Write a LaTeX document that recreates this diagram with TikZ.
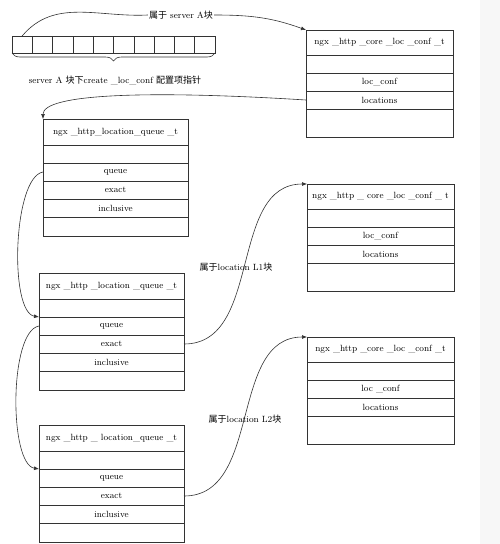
\documentclass[tikz,border=0pt]{standalone}
\usepackage{fontspec}
\newfontfamily\cjk{Noto Sans CJK SC}
\usetikzlibrary{positioning, decorations.pathreplacing, arrows.meta}

\tikzset{
  row/.style={draw=black!80, line width=0.6pt, minimum height=18pt, inner sep=0pt, outer sep=0pt, font=\small},
  head/.style={row, minimum height=25pt},
  core/.style={minimum width=147pt},
  queue/.style={minimum width=145pt},
  cell/.style={draw=black!80, line width=0.6pt, minimum width=20.3pt, minimum height=17pt, inner sep=0pt, outer sep=0pt},
  link/.style={draw=black!80, line width=0.6pt, -{Latex[length=5pt, width=4pt]}},
  plain/.style={draw=black!80, line width=0.6pt},
  lbl/.style={font=\small, inner sep=1pt}
}

\begin{document}
\begin{tikzpicture}[x=1pt, y=1pt]
    % page
    \useasboundingbox (0,0) rectangle (500,-544);
    \fill[white] (0,0) rectangle (500,-544);
    \fill[black!3] (480,0) rectangle (500,-544);

    % server A pointer array
    \foreach \i in {0,...,9}
        \node[cell, anchor=north west] (cell\i) at ({12+20.3*\i},-36) {};
    \draw[plain, decorate, decoration={brace, mirror, amplitude=8pt}]
        (cell0.south west) -- (cell9.south east);
    \node[lbl] (ptr) at (115,-80) {server A {\cjk 块下}create \_loc\_conf {\cjk 配置项指针}};
    \node[lbl] (srvA) at (181,-15) {{\cjk 属于} server A{\cjk 块}};

    % ngx_http_core_loc_conf_t of server A
    \node[head, core, anchor=north west] (c1head) at (306,-30) {ngx \_http \_core \_loc \_conf \_t};
    \node[row, core, below=0pt of c1head] (c1gap) {};
    \node[row, core, below=0pt of c1gap] (c1loc) {loc\_conf};
    \node[row, core, below=0pt of c1loc] (c1locs) {locations};
    \node[row, core, minimum height=28pt, below=0pt of c1locs] (c1tail) {};

    % ngx_http_core_loc_conf_t of L1
    \node[head, core, anchor=north west] (c2head) at (307,-184) {ngx \_http \_ core \_loc \_conf \_ t};
    \node[row, core, below=0pt of c2head] (c2gap) {};
    \node[row, core, below=0pt of c2gap] (c2loc) {loc\_conf};
    \node[row, core, below=0pt of c2loc] (c2locs) {locations};
    \node[row, core, minimum height=28pt, below=0pt of c2locs] (c2tail) {};

    % ngx_http_core_loc_conf_t of L2
    \node[head, core, anchor=north west] (c3head) at (307,-337) {ngx \_http \_core \_loc \_conf \_t};
    \node[row, core, below=0pt of c3head] (c3gap) {};
    \node[row, core, below=0pt of c3gap] (c3loc) {loc \_conf};
    \node[row, core, below=0pt of c3loc] (c3locs) {locations};
    \node[row, core, minimum height=28pt, below=0pt of c3locs] (c3tail) {};

    % queue head
    \node[head, queue, minimum height=26pt, anchor=north west] (q1head) at (43,-119) {ngx \_http\_location\_queue \_t};
    \node[row, queue, below=0pt of q1head] (q1gap) {};
    \node[row, queue, below=0pt of q1gap] (q1queue) {queue};
    \node[row, queue, below=0pt of q1queue] (q1exact) {exact};
    \node[row, queue, below=0pt of q1exact] (q1incl) {inclusive};
    \node[row, queue, minimum height=19pt, below=0pt of q1incl] (q1tail) {};

    % queue element L1
    \node[head, queue, minimum height=26pt, anchor=north west] (q2head) at (39,-273) {ngx \_http \_location \_queue \_t};
    \node[row, queue, below=0pt of q2head] (q2gap) {};
    \node[row, queue, below=0pt of q2gap] (q2queue) {queue};
    \node[row, queue, below=0pt of q2queue] (q2exact) {exact};
    \node[row, queue, below=0pt of q2exact] (q2incl) {inclusive};
    \node[row, queue, minimum height=19pt, below=0pt of q2incl] (q2tail) {};

    % queue element L2
    \node[head, queue, minimum height=26pt, anchor=north west] (q3head) at (39,-425) {ngx \_http \_ location\_queue \_t};
    \node[row, queue, below=0pt of q3head] (q3gap) {};
    \node[row, queue, below=0pt of q3gap] (q3queue) {queue};
    \node[row, queue, below=0pt of q3queue] (q3exact) {exact};
    \node[row, queue, below=0pt of q3exact] (q3incl) {inclusive};
    \node[row, queue, minimum height=19pt, below=0pt of q3incl] (q3tail) {};

    % links
    \draw[plain] (cell0.north) to[out=50, in=183] (srvA.west);
    \draw[link] (srvA.east) to[out=0, in=160] (c1head.north west);
    \draw[link] (c1locs.west) .. controls +(-160,10) and +(0,25) .. (q1head.north west);
    \draw[link] (q1queue.west) .. controls +(-30,-5) and +(-30,5) .. (q2queue.north west);
    \draw[link] (q2queue.west) .. controls +(-30,-5) and +(-30,5) .. (q3queue.north west);
    \draw[link] (q2exact.east) to[out=0, in=180] (c2head.north west);
    \draw[link] (q3exact.east) to[out=0, in=180] (c3head.north west);

    % labels on the links
    \node[lbl] (inL1) at (236,-267) {{\cjk 属于}location L1{\cjk 块}};
    \node[lbl] (inL2) at (245,-419) {{\cjk 属于}location L2{\cjk 块}};
\end{tikzpicture}
\end{document}
